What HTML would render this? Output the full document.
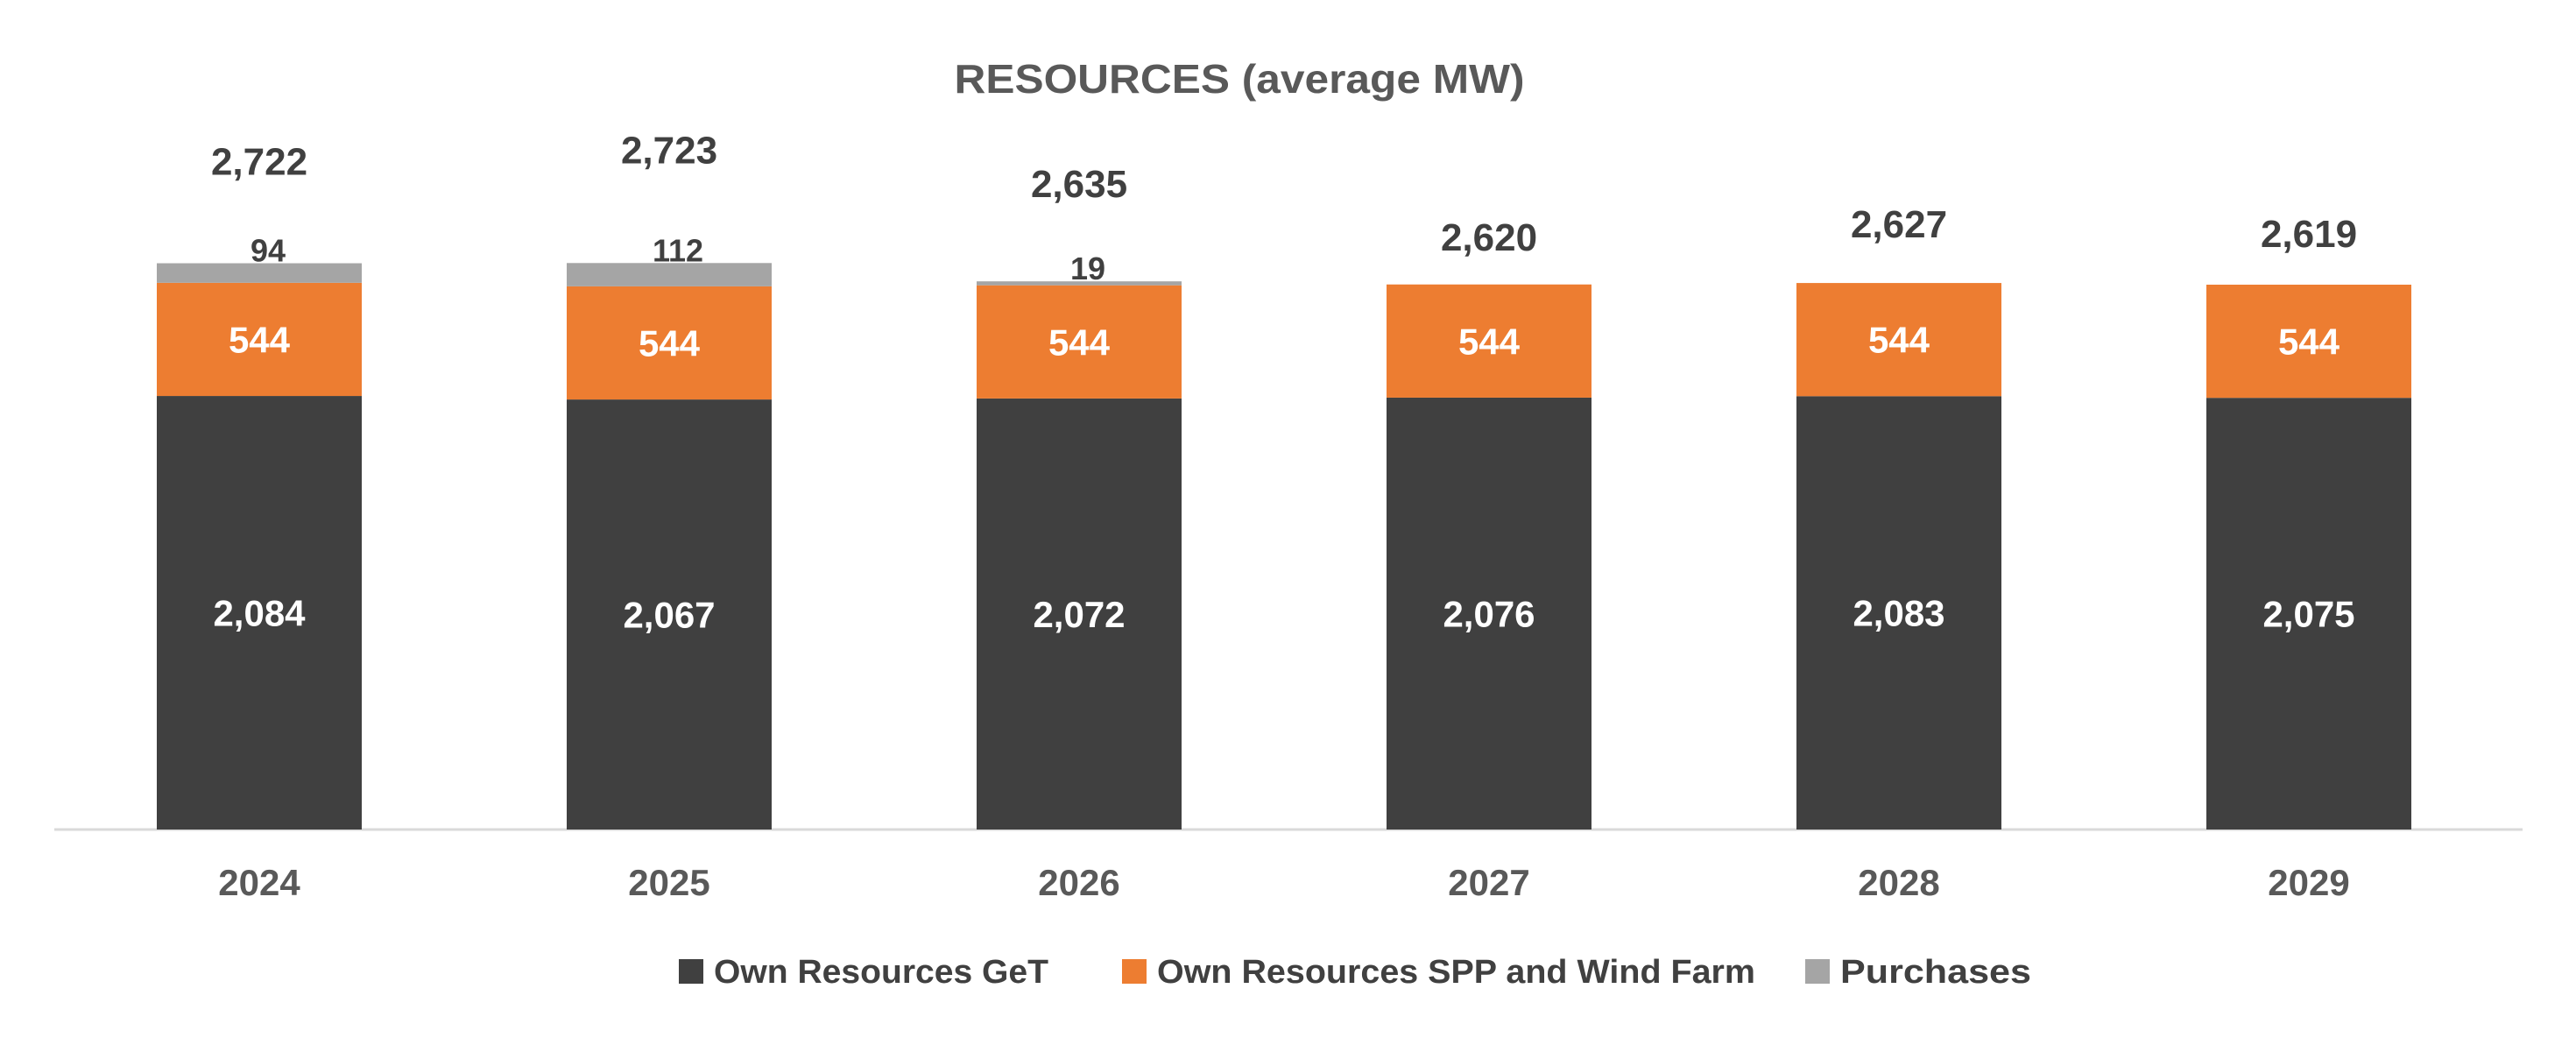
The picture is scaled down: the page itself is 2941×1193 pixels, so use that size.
<!DOCTYPE html>
<html><head><meta charset="utf-8"><style>
html,body{margin:0;padding:0;background:#fff;}
svg{display:block;font-family:"Liberation Sans",sans-serif;font-weight:bold;}
</style></head><body>
<svg id="chart" width="2941" height="1193" viewBox="0 0 2941 1193" xmlns="http://www.w3.org/2000/svg">
<text x="1415" y="106" text-anchor="middle" font-size="46" fill="#595959" textLength="651" lengthAdjust="spacingAndGlyphs">RESOURCES (average MW)</text>
<line x1="62" y1="947" x2="2880" y2="947" stroke="#d9d9d9" stroke-width="3"/>
<g id="bars"></g>
<g>
<rect x="775" y="1095" width="28" height="28" fill="#404040"/>
<text x="815" y="1122" font-size="38" fill="#404040" textLength="382" lengthAdjust="spacingAndGlyphs">Own Resources GeT</text>
<rect x="1281" y="1095" width="28" height="28" fill="#ed7d31"/>
<text x="1321" y="1122" font-size="38" fill="#404040" textLength="683" lengthAdjust="spacingAndGlyphs">Own Resources SPP and Wind Farm</text>
<rect x="2061" y="1095" width="28" height="28" fill="#a5a5a5"/>
<text x="2101" y="1122" font-size="38" fill="#404040" textLength="218" lengthAdjust="spacingAndGlyphs">Purchases</text>
</g>
</svg>
<script>
const categories = ["2024","2025","2026","2027","2028","2029"];
const getValues = [2084,2067,2072,2076,2083,2075];
const sppValues = [544,544,544,544,544,544];
const purchaseValues = [94,112,19,0,0,0];
const totalLabels = ["2,722","2,723","2,635","2,620","2,627","2,619"];
const totalLabelOffsets = [101,114,96,39,52,43];

const NS="http://www.w3.org/2000/svg";
const g=document.getElementById('bars');
const baseY=947, scale=0.2375, x0=296, pitch=468, bw=234;
function xC(i){return x0+i*pitch;}
function yV(v){return baseY-v*scale;}
function fmt(v){return v.toLocaleString('en-US');}
function mk(tag,attrs){const e=document.createElementNS(NS,tag);for(const k in attrs)e.setAttribute(k,attrs[k]);g.appendChild(e);return e;}
categories.forEach((c,i)=>{
  const cx=xC(i);
  const a=getValues[i], b=sppValues[i], p=purchaseValues[i];
  let r=mk('rect',{x:cx-bw/2,y:yV(a),width:bw,height:a*scale,fill:'#404040'});
  
  
  r=mk('rect',{x:cx-bw/2,y:yV(a+b),width:bw,height:b*scale,fill:'#ed7d31'});
  
  
  if(p>0){
    r=mk('rect',{x:cx-bw/2,y:yV(a+b+p),width:bw,height:p*scale,fill:'#a5a5a5'});
    
    
    let t=mk('text',{x:cx+10,y:yV(a+b+p)-2,'text-anchor':'middle','font-size':36,fill:'#404040'});
    t.textContent=fmt(p);
    
    
  }
  let t=mk('text',{x:cx,y:yV(a/2)+15,'text-anchor':'middle','font-size':42,fill:'#fff'});
  t.textContent=fmt(a);
  
  
  t=mk('text',{x:cx,y:yV(a+b/2)+15,'text-anchor':'middle','font-size':42,fill:'#fff'});
  t.textContent=fmt(b);
  
  
  t=mk('text',{x:cx,y:yV(a+b+p)-totalLabelOffsets[i],'text-anchor':'middle','font-size':44,fill:'#404040'});
  t.textContent=totalLabels[i];
  
  
  t=mk('text',{x:cx,y:1022,'text-anchor':'middle','font-size':42,fill:'#595959'});
  t.textContent=c;
  
  
});
</script>
</body></html>
